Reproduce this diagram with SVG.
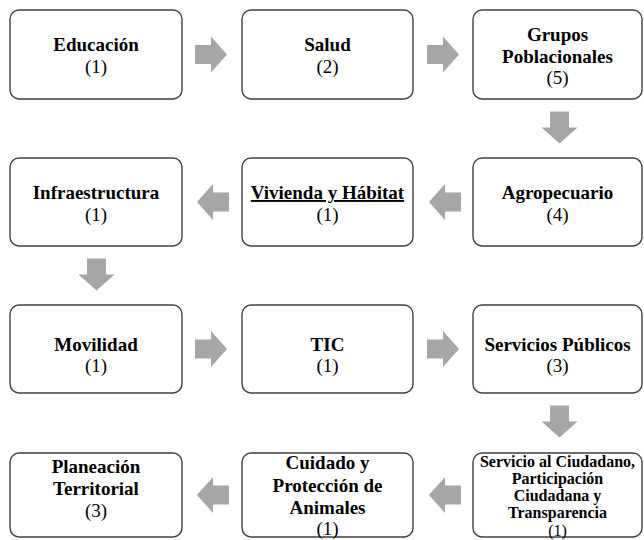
<svg xmlns="http://www.w3.org/2000/svg" xmlns:xlink="http://www.w3.org/1999/xlink" width="644" height="540" viewBox="0 0 644 540">
<style>
.box{fill:#ffffff;stroke:#404040;stroke-width:1.4}
.t{font-family:"Liberation Serif","Times New Roman",serif;font-size:19px;fill:#000;text-anchor:middle}
.b{font-weight:bold}
.s{font-size:16px}
.arr{fill:#a6a6a6}
</style>
<defs>
<path id="arrow" class="arr" d="M-16,-9.5 H0 V-18 L16,0 L0,18 V9.5 H-16 Z"/>
</defs>
<rect width="644" height="540" fill="#ffffff"/>
<g id="connectors">
<use xlink:href="#arrow" transform="translate(211,54.5)"/>
<use xlink:href="#arrow" transform="translate(443,54.5)"/>
<use xlink:href="#arrow" transform="translate(559.5,127.5) rotate(90)"/>
<use xlink:href="#arrow" transform="translate(445,202) rotate(180)"/>
<use xlink:href="#arrow" transform="translate(213,202) rotate(180)"/>
<use xlink:href="#arrow" transform="translate(96.5,274.5) rotate(90)"/>
<use xlink:href="#arrow" transform="translate(211,349)"/>
<use xlink:href="#arrow" transform="translate(443,349)"/>
<use xlink:href="#arrow" transform="translate(559.5,421.5) rotate(90)"/>
<use xlink:href="#arrow" transform="translate(445,495) rotate(180)"/>
<use xlink:href="#arrow" transform="translate(213,495) rotate(180)"/>
</g>
<g id="n-educacion">
<rect class="box" x="10" y="10" width="172" height="89" rx="9"/>
<text class="t"><tspan class="b" x="96" y="51">Educación</tspan><tspan x="96" y="73">(1)</tspan></text>
</g>
<g id="n-salud">
<rect class="box" x="242" y="10" width="171" height="89" rx="9"/>
<text class="t"><tspan class="b" x="327.5" y="51">Salud</tspan><tspan x="327.5" y="73">(2)</tspan></text>
</g>
<g id="n-grupos">
<rect class="box" x="473" y="10" width="169" height="89" rx="9"/>
<text class="t"><tspan class="b" x="557.5" y="41">Grupos</tspan><tspan class="b" x="557.5" y="62.5">Poblacionales</tspan><tspan x="557.5" y="84">(5)</tspan></text>
</g>
<g id="n-infraestructura">
<rect class="box" x="10" y="158" width="172" height="88" rx="9"/>
<text class="t"><tspan class="b" x="96" y="199">Infraestructura</tspan><tspan x="96" y="220.5">(1)</tspan></text>
</g>
<g id="n-vivienda">
<rect class="box" x="242" y="158" width="171" height="88" rx="9"/>
<text class="t"><tspan class="b" x="327.5" y="199" text-decoration="underline">Vivienda y Hábitat</tspan><tspan x="327.5" y="220.5">(1)</tspan></text>
</g>
<g id="n-agropecuario">
<rect class="box" x="473" y="158" width="169" height="88" rx="9"/>
<text class="t"><tspan class="b" x="557.5" y="199">Agropecuario</tspan><tspan x="557.5" y="220.5">(4)</tspan></text>
</g>
<g id="n-movilidad">
<rect class="box" x="10" y="305" width="172" height="88" rx="9"/>
<text class="t"><tspan class="b" x="96" y="350.5">Movilidad</tspan><tspan x="96" y="372">(1)</tspan></text>
</g>
<g id="n-tic">
<rect class="box" x="242" y="305" width="171" height="88" rx="9"/>
<text class="t"><tspan class="b" x="327.5" y="350.5">TIC</tspan><tspan x="327.5" y="372">(1)</tspan></text>
</g>
<g id="n-servicios">
<rect class="box" x="473" y="305" width="169" height="88" rx="9"/>
<text class="t"><tspan class="b" x="557.5" y="350.5">Servicios Públicos</tspan><tspan x="557.5" y="372">(3)</tspan></text>
</g>
<g id="n-planeacion">
<rect class="box" x="10" y="453" width="172" height="84" rx="9"/>
<text class="t"><tspan class="b" x="96" y="473">Planeación</tspan><tspan class="b" x="96" y="495">Territorial</tspan><tspan x="96" y="517">(3)</tspan></text>
</g>
<g id="n-cuidado">
<rect class="box" x="242" y="453" width="171" height="84" rx="9"/>
<text class="t"><tspan class="b" x="327.5" y="469">Cuidado y</tspan><tspan class="b" x="327.5" y="491.5">Protección de</tspan><tspan class="b" x="327.5" y="514">Animales</tspan><tspan x="327.5" y="535">(1)</tspan></text>
</g>
<g id="n-servicio-ciudadano">
<rect class="box" x="473" y="453" width="169" height="84" rx="9"/>
<text class="t s"><tspan class="b" x="557.5" y="467">Servicio al Ciudadano,</tspan><tspan class="b" x="557.5" y="484">Participación</tspan><tspan class="b" x="557.5" y="501">Ciudadana y</tspan><tspan class="b" x="557.5" y="518">Transparencia</tspan><tspan x="557.5" y="535.5">(1)</tspan></text>
</g>
</svg>
